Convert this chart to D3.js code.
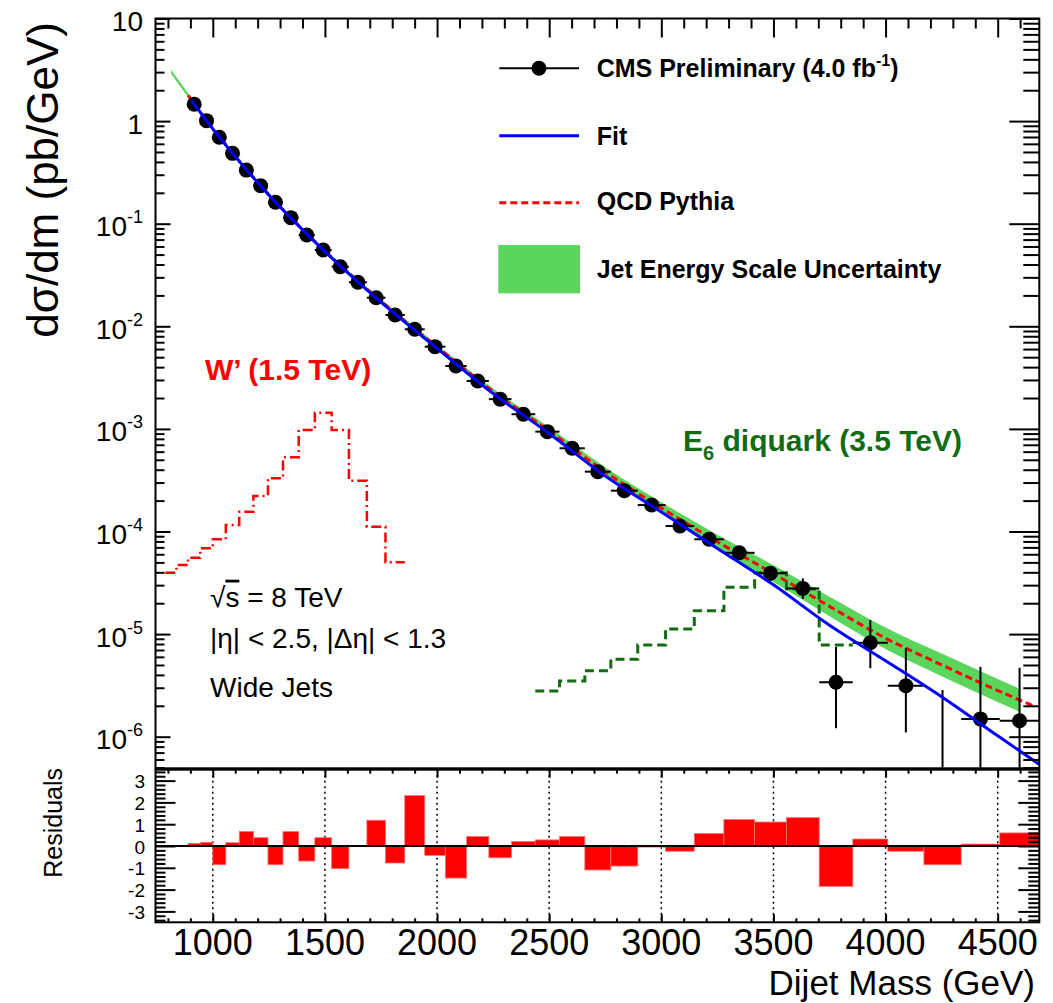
<!DOCTYPE html>
<html>
<head>
<meta charset="utf-8">
<script src="https://d3js.org/d3.v7.min.js"></script>
<style>
body { margin: 0; background: #fff; }
svg { display: block; font-family: "Liberation Sans", Arial, Helvetica, sans-serif; }
</style>
</head>
<body>
<svg width="1053" height="1003"></svg>
<script>
// ---- data ----
var massEdges = [890, 944, 1000, 1058, 1118, 1181, 1246, 1313, 1383, 1455, 1530, 1607, 1687, 1770, 1856, 1945,
  2037, 2132, 2231, 2332, 2438, 2546, 2659, 2775, 2895, 3019, 3147, 3279, 3416, 3558, 3704, 3854, 4010, 4171,
  4337, 4509, 4686];
var dataValues = [1.46, 1.01, 0.695, 0.485, 0.333, 0.234, 0.162, 0.1145, 0.0776, 0.0554, 0.0381, 0.0269, 0.0190,
  0.0129, 0.00935, 0.00633, 0.0041, 0.00293, 1.95e-3, 1.39e-3, 9.4e-4, 6.47e-4, 3.83e-4, 2.50e-4, 1.81e-4,
  1.13e-4, 8.4e-5, 6.2e-5, 3.92e-5, 2.79e-5, 3.39e-6, 8.24e-6, 3.14e-6, 0, 1.49e-6, 1.43e-6];
// error bar ends (null = hidden behind marker, 0 = runs off the bottom)
var errHigh = [null, null, null, null, null, null, null, null, null, null, null, null, null, null, null, null,
  null, null, null, null, null, null, null, null, null, null, 9.0e-5, 6.8e-5, 4.6e-5, 3.5e-5, 7.5e-6, 1.37e-5,
  7.3e-6, 2.85e-6, 4.8e-6, 4.7e-6];
var errLow = [null, null, null, null, null, null, null, null, null, null, null, null, null, null, null, null,
  null, null, null, null, null, null, null, null, null, null, 7.8e-5, 5.6e-5, 3.3e-5, 2.2e-5, 1.21e-6, 4.65e-6,
  1.1e-6, 0, 0, 0];
var residuals = [0.12, 0.17, -0.86, 0.15, 0.67, 0.38, -0.86, 0.66, -0.69, 0.38, -1.04, 0, 1.18, -0.78, 2.31,
  -0.43, -1.47, 0.44, -0.54, 0.21, 0.28, 0.44, -1.10, -0.92, -0.05, -0.24, 0.57, 1.21, 1.10, 1.30, -1.85, 0.32,
  -0.24, -0.86, 0.09, 0.60];

var fitMass = [905, 1000, 1250, 1500, 1750, 2000, 2250, 2500, 2750, 3000, 3250, 3500, 3750, 4000, 4250, 4500, 4686];
var fitValues = [1.585, 0.839, 0.1905, 0.0535, 0.01718, 0.00610, 0.00221, 9.02e-4, 3.47e-4, 1.55e-4, 6.84e-5,
  3.02e-5, 1.22e-5, 5.50e-6, 2.45e-6, 1.02e-6, 5.37e-7];

var qcdMass = [890, 1000, 1250, 1500, 1750, 2000, 2250, 2500, 2750, 3000, 3250, 3500, 3750, 4000, 4250, 4500, 4660];
var qcdValues = [1.778, 0.8511, 0.1928, 0.05433, 0.01758, 0.006310, 0.002317, 9.550e-4, 3.802e-4, 1.698e-4,
  7.943e-5, 3.890e-5, 1.862e-5, 9.120e-6, 5.012e-6, 2.818e-6, 1.995e-6];

var bandMass = [814, 1000, 1250, 1500, 1750, 2000, 2250, 2500, 2750, 3000, 3250, 3500, 3750, 4000, 4250, 4500, 4600];
var bandLow = [2.90, 0.8204, 0.1854, 0.05212, 0.01679, 0.005984, 0.002173, 8.81e-4, 3.428e-4, 1.496e-4,
  6.792e-5, 3.221e-5, 1.496e-5, 7.161e-6, 3.890e-6, 2.178e-6, 1.742e-6];
var bandHigh = [3.16, 0.8831, 0.2004, 0.05662, 0.01841, 0.006653, 0.002472, 1.035e-3, 4.217e-4, 1.928e-4,
  9.290e-5, 4.699e-5, 2.317e-5, 1.161e-5, 6.457e-6, 3.648e-6, 2.917e-6];

var wpEdges = [788, 838, 890, 944, 1000, 1058, 1118, 1181, 1246, 1313, 1383, 1455, 1530, 1607, 1687, 1770, 1856];
var wpValues = [3.97e-5, 4.71e-5, 5.56e-5, 6.86e-5, 8.39e-5, 1.156e-4, 1.559e-4, 2.218e-4, 3.30e-4, 5.28e-4,
  9.75e-4, 1.439e-3, 9.75e-4, 3.13e-4, 1.114e-4, 5.01e-5];

var e6Edges = [2438, 2546, 2659, 2775, 2895, 3019, 3147, 3279, 3416, 3558, 3704, 3854];
var e6Values = [2.786e-6, 3.49e-6, 4.40e-6, 5.68e-6, 7.83e-6, 1.122e-5, 1.690e-5, 2.858e-5, 3.96e-5, 2.754e-5, 7.83e-6];

var massTicks = [1000, 1500, 2000, 2500, 3000, 3500, 4000, 4500];
var decadeTicks = [10, 1, 0.1, 0.01, 1e-3, 1e-4, 1e-5, 1e-6];
var decadeBase = ["10", "1", "10", "10", "10", "10", "10", "10"];
var decadeExp = ["", "", "-1", "-2", "-3", "-4", "-5", "-6"];
var residTicks = [-3, -2, -1, 0, 1, 2, 3];

var svg = d3.select("svg");
var L = 155.5, R = 1039.3, T = 18.5, B = 768.3, RT = 769.7, RB = 922.3;

var x = d3.scaleLinear().domain([744.5, 4685.5]).range([L, R]);
var y = d3.scaleLog().domain([4.92e-7, 10]).range([B, T]);
var yr = d3.scaleLinear().domain([-3.5, 3.5]).range([RB, RT]);

svg.append("rect").attr("width", 1053).attr("height", 1003).attr("fill", "#fff");

svg.append("clipPath").attr("id", "mainclip")
  .append("rect").attr("x", L).attr("y", T).attr("width", R - L).attr("height", B - T);

var main = svg.append("g").attr("clip-path", "url(#mainclip)");

// JES band
var band = bandMass.map(function (m, i) { return { m: m, lo: bandLow[i], hi: bandHigh[i] }; });
main.append("path").datum(band)
  .attr("fill", "#5bd55b")
  .attr("d", d3.area().x(function (d) { return x(d.m); })
    .y0(function (d) { return y(d.lo); }).y1(function (d) { return y(d.hi); })
    .curve(d3.curveMonotoneX));

// QCD pythia
var line = d3.line().x(function (d) { return x(d[0]); }).y(function (d) { return y(d[1]); }).curve(d3.curveMonotoneX);
main.append("path").datum(qcdMass.map(function (m, i) { return [m, qcdValues[i]]; }))
  .attr("fill", "none").attr("stroke", "#ff0000").attr("stroke-width", 3).attr("stroke-dasharray", "7,4")
  .attr("d", line);

// signal histograms
var step = d3.line().x(function (d) { return x(d[0]); }).y(function (d) { return y(d[1]); }).curve(d3.curveStepAfter);
function histPts(edges, vals) {
  var p = vals.map(function (v, i) { return [edges[i], v]; });
  p.push([edges[edges.length - 1], vals[vals.length - 1]]);
  return p;
}
main.append("path").datum(histPts(wpEdges, wpValues))
  .attr("fill", "none").attr("stroke", "#ff0000").attr("stroke-width", 2.5).attr("stroke-dasharray", "10,4,2,4")
  .attr("d", step);
main.append("path").datum(histPts(e6Edges, e6Values))
  .attr("fill", "none").attr("stroke", "#136b13").attr("stroke-width", 3).attr("stroke-dasharray", "9,5")
  .attr("d", step);

// data points
var pts = main.append("g");
dataValues.forEach(function (v, i) {
  var cx = x((massEdges[i] + massEdges[i + 1]) / 2);
  if (errHigh[i] !== null) {
    pts.append("line").attr("x1", cx).attr("x2", cx)
      .attr("y1", y(errHigh[i])).attr("y2", errLow[i] > 0 ? y(errLow[i]) : B + 2)
      .attr("stroke", "#000").attr("stroke-width", 2);
  }
  if (v > 0) {
    pts.append("line").attr("x1", x(massEdges[i])).attr("x2", x(massEdges[i + 1]))
      .attr("y1", y(v)).attr("y2", y(v)).attr("stroke", "#000").attr("stroke-width", 2);
    pts.append("circle").attr("cx", cx).attr("cy", y(v)).attr("r", 7.5).attr("fill", "#000");
  }
});

// fit
main.append("path").datum(fitMass.map(function (m, i) { return [m, fitValues[i]]; }))
  .attr("fill", "none").attr("stroke", "#0000ff").attr("stroke-width", 3)
  .attr("d", line);

// ---- residual pad ----
var res = svg.append("g");
massTicks.forEach(function (m) {
  res.append("line").attr("x1", x(m)).attr("x2", x(m)).attr("y1", RT).attr("y2", RB)
    .attr("stroke", "#000").attr("stroke-width", 1.5).attr("stroke-dasharray", "2,3.5");
});
residuals.forEach(function (r, i) {
  if (r === 0) return;
  res.append("rect")
    .attr("x", x(massEdges[i])).attr("width", x(massEdges[i + 1]) - x(massEdges[i]))
    .attr("y", Math.min(yr(0), yr(r))).attr("height", Math.abs(yr(r) - yr(0)))
    .attr("fill", "#ff0000").attr("stroke", "#ff7070").attr("stroke-width", 0.8);
});
res.append("line").attr("x1", L).attr("x2", R).attr("y1", yr(0)).attr("y2", yr(0))
  .attr("stroke", "#000").attr("stroke-width", 2);

// ---- axes / ticks ----
function tidy(g) {
  g.select(".domain").remove();
  g.selectAll(".tick line").attr("stroke", "#000").attr("stroke-width", 2);
  g.selectAll(".tick text").remove();
}
var minorMass = d3.range(800, 4700, 100).filter(function (v) { return v % 500 !== 0; });
var minorLog = [];
for (var k = -7; k <= 0; k++) {
  for (var m = 2; m <= 9; m++) {
    var v = m * Math.pow(10, k);
    if (v >= 4.92e-7 && v <= 10) minorLog.push(v);
  }
}
var minorRes = d3.range(-17, 18).map(function (k) { return k * 0.2; })
  .filter(function (v) { return Math.abs(v - Math.round(v)) > 1e-6; });

// main pad
svg.append("g").attr("transform", "translate(0," + T + ")").call(d3.axisTop(x).tickValues(massTicks).tickSize(-19)).call(tidy);
svg.append("g").attr("transform", "translate(0," + T + ")").call(d3.axisTop(x).tickValues(minorMass).tickSize(-10)).call(tidy);
svg.append("g").attr("transform", "translate(" + L + ",0)").call(d3.axisLeft(y).tickValues(decadeTicks).tickSize(-15)).call(tidy);
svg.append("g").attr("transform", "translate(" + L + ",0)").call(d3.axisLeft(y).tickValues(minorLog).tickSize(-9)).call(tidy);
svg.append("g").attr("transform", "translate(" + R + ",0)").call(d3.axisRight(y).tickValues(decadeTicks).tickSize(-30)).call(tidy);
svg.append("g").attr("transform", "translate(" + R + ",0)").call(d3.axisRight(y).tickValues(minorLog).tickSize(-16)).call(tidy);

// residual pad
svg.append("g").attr("transform", "translate(" + L + ",0)").call(d3.axisLeft(yr).tickValues(residTicks).tickSize(-20)).call(tidy);
svg.append("g").attr("transform", "translate(" + L + ",0)").call(d3.axisLeft(yr).tickValues(minorRes).tickSize(-10)).call(tidy);
svg.append("g").attr("transform", "translate(" + R + ",0)").call(d3.axisRight(yr).tickValues(residTicks).tickSize(-21)).call(tidy);
svg.append("g").attr("transform", "translate(" + R + ",0)").call(d3.axisRight(yr).tickValues(minorRes).tickSize(-11)).call(tidy);
svg.append("g").attr("transform", "translate(0," + RT + ")").call(d3.axisTop(x).tickValues(massTicks).tickSize(-8)).call(tidy);
svg.append("g").attr("transform", "translate(0," + RT + ")").call(d3.axisTop(x).tickValues(minorMass).tickSize(-4)).call(tidy);
svg.append("g").attr("transform", "translate(0," + RB + ")").call(d3.axisBottom(x).tickValues(massTicks).tickSize(-8)).call(tidy);
svg.append("g").attr("transform", "translate(0," + RB + ")").call(d3.axisBottom(x).tickValues(minorMass).tickSize(-4)).call(tidy);

// frames
svg.append("rect").attr("x", L).attr("y", T).attr("width", R - L).attr("height", B - T)
  .attr("fill", "none").attr("stroke", "#000").attr("stroke-width", 2);
svg.append("rect").attr("x", L).attr("y", RT).attr("width", R - L).attr("height", RB - RT)
  .attr("fill", "none").attr("stroke", "#000").attr("stroke-width", 2);

// tick labels
decadeTicks.forEach(function (d, i) {
  var t = svg.append("text").attr("x", 143).attr("y", y(d) + 12.5).attr("text-anchor", "end")
    .attr("font-size", 28).attr("fill", "#000");
  t.append("tspan").text(decadeBase[i]);
  if (decadeExp[i]) t.append("tspan").attr("font-size", 18).attr("dy", -13).text(decadeExp[i]);
});
residTicks.forEach(function (d) {
  svg.append("text").attr("x", 145).attr("y", yr(d) + 7.5).attr("text-anchor", "end")
    .attr("font-size", 19).text(d);
});
massTicks.forEach(function (d) {
  svg.append("text").attr("x", x(d)).attr("y", 955).attr("text-anchor", "middle")
    .attr("font-size", 36).text(d);
});

// axis titles
svg.append("text").attr("transform", "translate(58,22) rotate(-90)").attr("text-anchor", "end")
  .attr("font-size", 44).text("dσ/dm (pb/GeV)");
svg.append("text").attr("transform", "translate(61.5,768) rotate(-90)").attr("text-anchor", "end")
  .attr("font-size", 25).text("Residuals");
svg.append("text").attr("x", 1035).attr("y", 995).attr("text-anchor", "end")
  .attr("font-size", 35).text("Dijet Mass (GeV)");

// legend
var lg = svg.append("g").attr("font-weight", "bold").attr("font-size", 25);
lg.append("line").attr("x1", 499.3).attr("x2", 579).attr("y1", 68.3).attr("y2", 68.3).attr("stroke", "#000").attr("stroke-width", 2);
lg.append("circle").attr("cx", 539).attr("cy", 68.3).attr("r", 7.5).attr("fill", "#000");
var t1 = lg.append("text").attr("x", 596.7).attr("y", 76.7);
t1.append("tspan").text("CMS Preliminary (4.0 fb");
t1.append("tspan").attr("font-size", 16).attr("dy", -11).text("-1");
t1.append("tspan").attr("dy", 11).text(")");
lg.append("line").attr("x1", 499.3).attr("x2", 579).attr("y1", 135.7).attr("y2", 135.7).attr("stroke", "#0000ff").attr("stroke-width", 3);
lg.append("text").attr("x", 596.7).attr("y", 145).text("Fit");
lg.append("line").attr("x1", 499.3).attr("x2", 579).attr("y1", 202.7).attr("y2", 202.7).attr("stroke", "#ff0000")
  .attr("stroke-width", 3).attr("stroke-dasharray", "7,4");
lg.append("text").attr("x", 596.7).attr("y", 210).text("QCD Pythia");
lg.append("rect").attr("x", 498.3).attr("y", 245).attr("width", 81.7).attr("height", 48.3).attr("fill", "#5bd55b");
lg.append("text").attr("x", 596.7).attr("y", 278.3).text("Jet Energy Scale Uncertainty");

// signal labels
svg.append("text").attr("x", 205).attr("y", 380).attr("font-size", 30).attr("font-weight", "bold")
  .attr("fill", "#ff0000").text("W’ (1.5 TeV)");
var e6 = svg.append("text").attr("x", 683).attr("y", 450.7).attr("font-size", 30).attr("font-weight", "bold")
  .attr("fill", "#136b13");
e6.append("tspan").text("E");
e6.append("tspan").attr("font-size", 20).attr("dy", 9).text("6");
e6.append("tspan").attr("dy", -9).text(" diquark (3.5 TeV)");

// cuts text
var c1 = svg.append("text").attr("x", 210).attr("y", 606.7).attr("font-size", 28);
c1.append("tspan").text("√");
c1.append("tspan").attr("text-decoration", "overline").text("s");
c1.append("tspan").text(" = 8 TeV");
svg.append("text").attr("x", 210).attr("y", 648.3).attr("font-size", 28).text("|η| < 2.5, |Δη| < 1.3");
svg.append("text").attr("x", 210).attr("y", 696.7).attr("font-size", 28).text("Wide Jets");
</script>
</body>
</html>
